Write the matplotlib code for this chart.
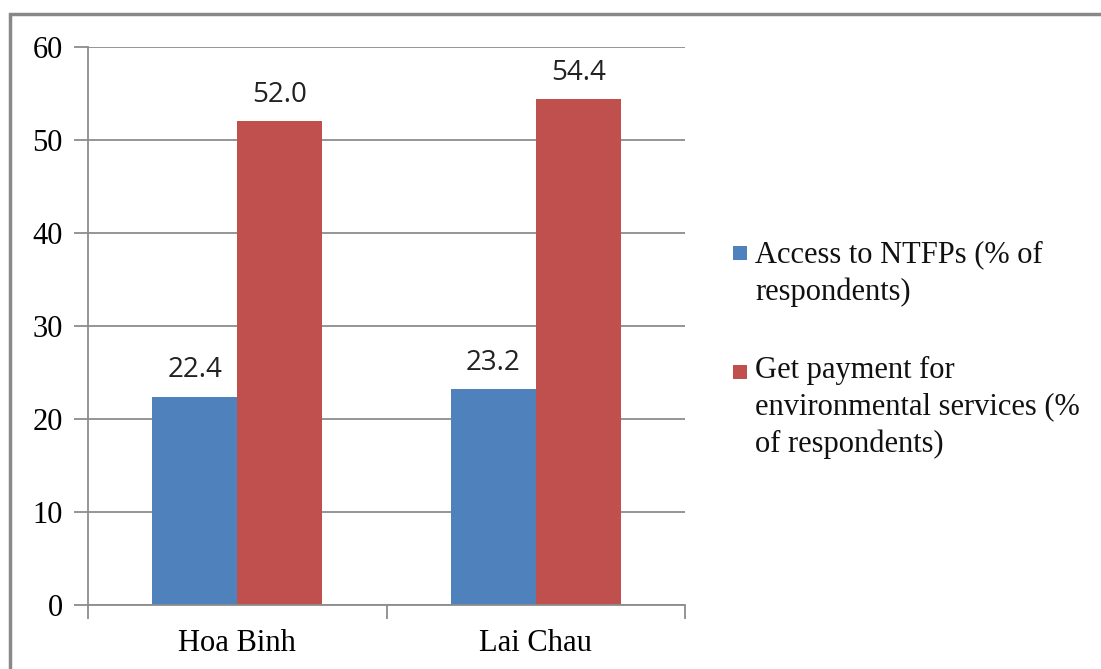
import matplotlib.pyplot as plt
import numpy as np
from matplotlib.patches import Rectangle

provinces = ["Hoa Binh", "Lai Chau"]
access_ntfps = [22.4, 23.2]
payment_pes = [52.0, 54.4]
series_labels = ["Access to NTFPs (% of\nrespondents)",
                 "Get payment for\nenvironmental services (%\nof respondents)"]
y_ticks = [0, 10, 20, 30, 40, 50, 60]

blue = "#4F81BD"
red = "#C0504D"
grid_col = "#8C8C8C"

plt.rcParams["font.family"] = ["Liberation Serif", "DejaVu Serif"]

fig = plt.figure(figsize=(11.01, 6.69), dpi=100)
ax = fig.add_axes([88 / 1101, 1 - 605 / 669, 597 / 1101, 558 / 669])

# outer grey frame of the chart
fig.patches.append(Rectangle((10 / 1101, -0.1), 1.2, 1 - 14 / 669 + 0.1,
                             transform=fig.transFigure, fill=False,
                             edgecolor="#888888", linewidth=2.5))

x = np.arange(len(provinces))
w = 0.285
b1 = ax.bar(x - w / 2, access_ntfps, w, color=blue)
b2 = ax.bar(x + w / 2, payment_pes, w, color=red)

for bars in (b1, b2):
    for r in bars:
        ax.annotate(f"{r.get_height():.1f}", (r.get_x() + r.get_width() / 2, r.get_height()),
                    xytext=(0, 14), textcoords="offset points", ha="center", va="baseline",
                    fontsize=20, family=["Open Sans", "DejaVu Sans"], color="#222222")

ax.set_xlim(-0.5, 1.5)
ax.set_ylim(0, 60)
ax.set_yticks(y_ticks)
ax.set_xticks(x)
ax.set_xticklabels(provinces)
ax.set_xticks([-0.5, 0.5, 1.5], minor=True)
ax.tick_params(axis="x", which="major", length=0, pad=17, labelsize=22)
ax.tick_params(axis="x", which="minor", length=10, color=grid_col, width=1.3)
ax.tick_params(axis="y", length=10, color=grid_col, width=1.3, pad=8, labelsize=22)
ax.yaxis.grid(True, color=grid_col, linewidth=1.3)
ax.set_axisbelow(True)
for s in ["top", "right"]:
    ax.spines[s].set_visible(False)
for s in ["left", "bottom"]:
    ax.spines[s].set_color(grid_col)
    ax.spines[s].set_linewidth(1.3)

# legend drawn by hand: square next to the first line of each wrapped label
first_baselines = [263, 382]
last_baselines = [300, 452]
for lab, col, y0, y1 in zip(series_labels, [blue, red], first_baselines, last_baselines):
    fig.patches.append(Rectangle((733 / 1101, 1 - (y0 - 3) / 669), 14 / 1101, 14 / 669,
                                 transform=fig.transFigure, facecolor=col, edgecolor="none"))
    # multi-line baseline alignment uses the last line
    fig.text(755 / 1101, 1 - y1 / 669, lab, fontsize=22, va="baseline", ha="left",
             linespacing=1.35, color="#111111")

fig.savefig("out.png", dpi=100)
